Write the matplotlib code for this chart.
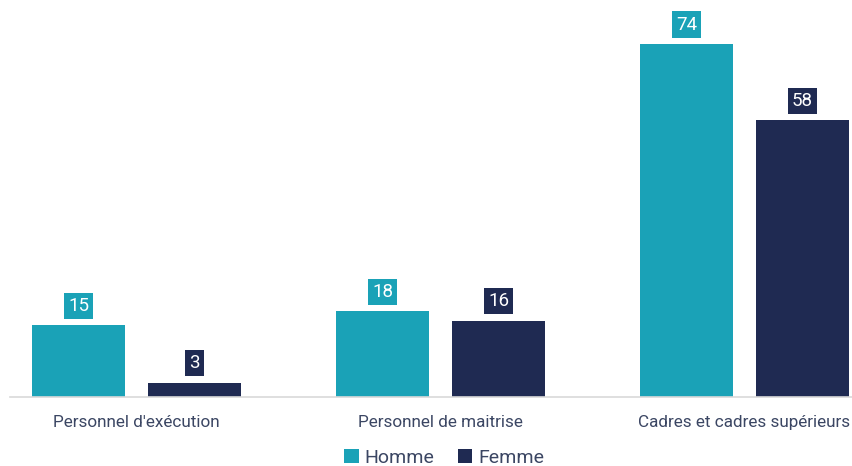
import matplotlib.pyplot as plt
import numpy as np

# Data
categories = ["Personnel d'exécution", "Personnel de maitrise", "Cadres et cadres supérieurs"]
homme = [15, 18, 74]
femme = [3, 16, 58]

c_homme = '#1aa2b7'
c_femme = '#1f2a52'
c_text = '#3b4663'

plt.rcParams['font.family'] = ['Roboto', 'DejaVu Sans']

fig = plt.figure(figsize=(8.52, 4.66), dpi=100)
ax = fig.add_axes([10 / 852, 1 - 397 / 466, 842 / 852, 397 / 466])

x = np.arange(len(categories))
w = 93 / 304
off = 58 / 304

b1 = ax.bar(x - off, homme, w, color=c_homme, label='Homme')
b2 = ax.bar(x + off, femme, w, color=c_femme, label='Femme')

# value labels in boxes
for bars, vals, col in [(b1, homme, c_homme), (b2, femme, c_femme)]:
    for rect, v in zip(bars, vals):
        ax.text(rect.get_x() + rect.get_width() / 2, v + 2.2, str(v),
                ha='center', va='bottom', color='white', fontsize=13.5,
                bbox=dict(boxstyle='square,pad=0.22', fc=col, ec='none'))

ax.set_xlim(-136.5 / 304 + 10 / 304, (852 - 136.5) / 304)
ax.set_ylim(0, 397 / 4.77)

for s in ['top', 'right', 'left']:
    ax.spines[s].set_visible(False)
ax.spines['bottom'].set_color('#d9d9d9')
ax.spines['bottom'].set_linewidth(1.2)
ax.set_yticks([])
ax.set_xticks(x)
ax.set_xticklabels(categories, fontsize=12.3, color=c_text)
ax.tick_params(axis='x', length=0, pad=13)

fig.legend(handles=[b1, b2], labels=['Homme', 'Femme'], loc='center',
           bbox_to_anchor=(444 / 852, 1 - 458 / 466), ncol=2, frameon=False,
           fontsize=14, handlelength=0.75, handleheight=0.75, handletextpad=0.3,
           columnspacing=1.2, labelcolor=c_text)

plt.savefig('out.png', dpi=100)
